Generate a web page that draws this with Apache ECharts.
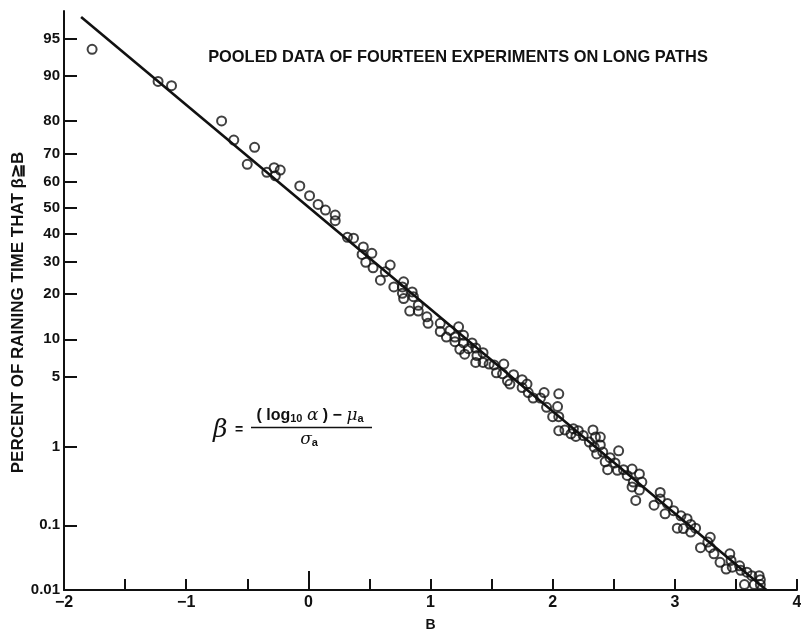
<!DOCTYPE html>
<html>
<head>
<meta charset="utf-8">
<script src="https://cdn.jsdelivr.net/npm/echarts@6/dist/echarts.min.js"></script>
<style>
  html, body { margin: 0; padding: 0; background: #fff; }
  #chart { width: 801px; height: 631px; }
</style>
</head>
<body>
<div id="chart"></div>
<script>
// Observed points: normalized level B and percent of raining time that beta >= B
const obsB = [
  -1.77, -1.23, -1.12, -0.71, -0.61, -0.44, -0.50, -0.34, -0.28, -0.23,
  -0.27, -0.07, 0.01, 0.08, 0.14, 0.22, 0.22, 0.32, 0.37, 0.45,
  0.44, 0.52, 0.47, 0.53, 0.67, 0.63, 0.59, 0.70, 0.78, 0.77,
  0.77, 0.85, 0.86, 0.78, 0.90, 0.83, 0.90, 0.97, 0.98, 1.08,
  1.08, 1.16, 1.23, 1.13, 1.20, 1.27, 1.20, 1.27, 1.34, 1.24,
  1.31, 1.37, 1.28, 1.38, 1.43, 1.37, 1.43, 1.48, 1.52, 1.60,
  1.54, 1.59, 1.68, 1.63, 1.65, 1.75, 1.75, 1.79, 1.80, 1.84,
  1.90, 1.93, 1.95, 2.05, 2.04, 2.00, 2.05, 2.05, 2.10, 2.17,
  2.15, 2.21, 2.19, 2.25, 2.33, 2.30, 2.35, 2.39, 2.34, 2.39,
  2.41, 2.36, 2.54, 2.47, 2.43, 2.51, 2.45, 2.53, 2.58, 2.65,
  2.61, 2.71, 2.66, 2.73, 2.65, 2.71, 2.68, 2.88, 2.88, 2.94,
  2.83, 2.92, 2.99, 3.05, 3.10, 3.02, 3.07, 3.13, 3.17, 3.13,
  3.29, 3.27, 3.21, 3.29, 3.32, 3.37, 3.45, 3.46, 3.42, 3.47,
  3.53, 3.54, 3.59, 3.63, 3.69, 3.70, 3.57, 3.65, 3.70
];
const obsPct = [
  93.8, 89.0, 88.2, 80.0, 74.4, 72.1, 66.3, 63.4, 65.1, 64.2,
  62.1, 58.3, 54.6, 51.2, 49.0, 47.1, 44.9, 38.6, 38.3, 35.1,
  32.4, 32.8, 29.7, 27.9, 28.8, 26.6, 24.0, 22.0, 23.5, 22.0,
  20.2, 20.6, 19.3, 18.8, 17.1, 15.7, 15.7, 14.4, 13.0, 13.0,
  11.4, 11.6, 12.3, 10.4, 10.4, 10.7, 9.6, 9.4, 9.4, 8.4,
  8.5, 8.6, 7.7, 7.5, 7.9, 6.6, 6.6, 6.4, 6.3, 6.4,
  5.4, 5.3, 5.2, 4.6, 4.3, 4.7, 4.0, 4.3, 3.6, 3.2,
  3.2, 3.6, 2.6, 3.5, 2.65, 2.1, 2.1, 1.5, 1.53, 1.57,
  1.39, 1.5, 1.3, 1.33, 1.53, 1.13, 1.28, 1.28, 0.99, 1.05,
  0.87, 0.83, 0.90, 0.75, 0.67, 0.65, 0.54, 0.53, 0.54, 0.55,
  0.46, 0.48, 0.38, 0.38, 0.33, 0.30, 0.22, 0.28, 0.23, 0.20,
  0.19, 0.145, 0.16, 0.136, 0.124, 0.091, 0.090, 0.103, 0.091, 0.080,
  0.067, 0.057, 0.047, 0.047, 0.038, 0.028, 0.038, 0.030, 0.022, 0.0235,
  0.0247, 0.021, 0.0196, 0.0172, 0.0172, 0.0147, 0.0123, 0.0123, 0.0123
];

// Straight reference line (normal distribution) end points
const fitB = [-1.86, 3.75];
const fitPct = [96.8, 0.01];

// Probability-scale tick marks
const yTickPct = [95, 90, 80, 70, 60, 50, 40, 30, 20, 10, 5, 1, 0.1, 0.01];
const yTickLabels = ['95', '90', '80', '70', '60', '50', '40', '30', '20', '10', '5', '1', '0.1', '0.01'];
const yTopPct = 97.2;
const xMin = -2, xMax = 4, xStep = 0.5;

// Inverse standard normal CDF (Acklam's rational approximation)
function probit(p) {
  const a = [-3.969683028665376e+01, 2.209460984245205e+02, -2.759285104469687e+02,
             1.383577518672690e+02, -3.066479806614716e+01, 2.506628277459239e+00];
  const b = [-5.447609879822406e+01, 1.615858368580409e+02, -1.556989798598866e+02,
             6.680131188771972e+01, -1.328068155288572e+01];
  const c = [-7.784894002430293e-03, -3.223964580411365e-01, -2.400758277161838e+00,
             -2.549732539343734e+00, 4.374664141464968e+00, 2.938163982698783e+00];
  const d = [7.784695709041462e-03, 3.224671290700398e-01, 2.445134137142996e+00,
             3.754408661907416e+00];
  const pLow = 0.02425, pHigh = 1 - pLow;
  let q, r;
  if (p < pLow) {
    q = Math.sqrt(-2 * Math.log(p));
    return (((((c[0]*q + c[1])*q + c[2])*q + c[3])*q + c[4])*q + c[5]) /
           ((((d[0]*q + d[1])*q + d[2])*q + d[3])*q + 1);
  }
  if (p <= pHigh) {
    q = p - 0.5; r = q * q;
    return (((((a[0]*r + a[1])*r + a[2])*r + a[3])*r + a[4])*r + a[5]) * q /
           (((((b[0]*r + b[1])*r + b[2])*r + b[3])*r + b[4])*r + 1);
  }
  q = Math.sqrt(-2 * Math.log(1 - p));
  return -(((((c[0]*q + c[1])*q + c[2])*q + c[3])*q + c[4])*q + c[5]) /
          ((((d[0]*q + d[1])*q + d[2])*q + d[3])*q + 1);
}
const pctToZ = pct => probit(pct / 100);

const yTickZ = yTickPct.map(pctToZ);
const yMin = pctToZ(0.01);
const yMax = pctToZ(yTopPct);

function yLabelFor(v) {
  let best = 0, bestD = Infinity;
  yTickZ.forEach((z, i) => { const dd = Math.abs(z - v); if (dd < bestD) { bestD = dd; best = i; } });
  return bestD < 1e-6 ? yTickLabels[best] : '';
}

const points = obsB.map((b, i) => [b, pctToZ(obsPct[i])]);
const fitLine = fitB.map((b, i) => [b, pctToZ(fitPct[i])]);

const INK = '#111';
const FONT = '"Liberation Sans", Arial, Helvetica, sans-serif';

const chart = echarts.init(document.getElementById('chart'), null, { renderer: 'canvas' });
chart.setOption({
  animation: false,
  backgroundColor: '#fff',
  grid: { left: 64, right: 4, top: 11, bottom: 41, containLabel: false, outerBoundsMode: 'none' },
  xAxis: [{
    type: 'value', min: xMin, max: xMax, interval: xStep,
    name: 'B', nameLocation: 'middle', nameGap: 28, nameMoveOverlap: false,
    nameTextStyle: { color: INK, fontFamily: FONT, fontSize: 14, fontWeight: 'bold' },
    axisLine: { onZero: false, lineStyle: { color: INK, width: 2 } },
    axisTick: { inside: true, length: 11, lineStyle: { color: INK, width: 2 } },
    axisLabel: {
      color: INK, fontFamily: FONT, fontSize: 16, fontWeight: 'bold', margin: 5,
      showMinLabel: true, showMaxLabel: true,
      formatter: v => Number.isInteger(v) ? (v < 0 ? '\u2212' + (-v) : String(v)) : ''
    },
    splitLine: { show: false }
  }, {
    // longer tick at B = 0
    type: 'value', min: xMin, max: xMax, position: 'bottom',
    axisLine: { show: false, onZero: false },
    axisTick: { show: true, inside: true, length: 19, customValues: [0], lineStyle: { color: INK, width: 2 } },
    axisLabel: { show: false },
    splitLine: { show: false }
  }],
  yAxis: {
    type: 'value', min: yMin, max: yMax,
    name: 'PERCENT OF RAINING TIME THAT \u03B2\u2267B',
    nameLocation: 'middle', nameRotate: 90, nameGap: 37, nameMoveOverlap: false,
    nameTextStyle: { color: INK, fontFamily: FONT, fontSize: 17, fontWeight: 'bold', padding: [0, 24, 0, 0] },
    axisLine: { onZero: false, lineStyle: { color: INK, width: 2 } },
    axisTick: { inside: true, length: 13, customValues: yTickZ, lineStyle: { color: INK, width: 2 } },
    axisLabel: {
      color: INK, fontFamily: FONT, fontSize: 15, fontWeight: 'bold', margin: 4,
      customValues: yTickZ, formatter: yLabelFor
    },
    splitLine: { show: false }
  },
  series: [{
    type: 'line',
    data: fitLine,
    symbol: 'none',
    lineStyle: { color: INK, width: 2.6 },
    z: 2
  }, {
    type: 'scatter',
    data: points,
    symbol: 'circle',
    symbolSize: 9,
    itemStyle: { color: 'rgba(255,255,255,0)', borderColor: INK, borderWidth: 2 },
    z: 3
  }],
  graphic: [{
    type: 'text', x: 458, y: 57,
    style: {
      text: 'POOLED DATA OF FOURTEEN EXPERIMENTS ON LONG PATHS',
      font: 'bold 16.4px ' + FONT, fill: INK, textAlign: 'center', textVerticalAlign: 'middle'
    }
  }, {
    type: 'text', x: 213, y: 430,
    style: { text: '\u03B2', font: 'italic 25px "DejaVu Serif", serif', fill: INK, textVerticalAlign: 'middle' }
  }, {
    type: 'text', x: 235, y: 430,
    style: { text: '=', font: 'bold 14px ' + FONT, fill: INK, textVerticalAlign: 'middle' }
  }, {
    type: 'text', x: 310, y: 416,
    style: {
      text: '( log{s|10} {i|\u03B1} ) \u2212 {i|\u03BC}{s|a}',
      font: 'bold 16px ' + FONT, fill: INK, textAlign: 'center', textVerticalAlign: 'middle',
      rich: {
        s: { fontSize: 11, fontWeight: 'bold', fontFamily: FONT, fill: INK, verticalAlign: 'bottom', padding: [6, 0, 0, 0] },
        i: { fontSize: 17, fontStyle: 'italic', fontFamily: '"DejaVu Serif", serif', fill: INK }
      }
    }
  }, {
    type: 'line', shape: { x1: 251, y1: 427.5, x2: 372, y2: 427.5 },
    style: { stroke: INK, lineWidth: 1.5 }
  }, {
    type: 'text', x: 309, y: 440,
    style: {
      text: '{i|\u03C3}{s|a}',
      font: 'bold 16px ' + FONT, fill: INK, textAlign: 'center', textVerticalAlign: 'middle',
      rich: {
        s: { fontSize: 11, fontWeight: 'bold', fontFamily: FONT, fill: INK, verticalAlign: 'bottom', padding: [6, 0, 0, 0] },
        i: { fontSize: 17, fontStyle: 'italic', fontFamily: '"DejaVu Serif", serif', fill: INK }
      }
    }
  }]
});
</script>
</body>
</html>
